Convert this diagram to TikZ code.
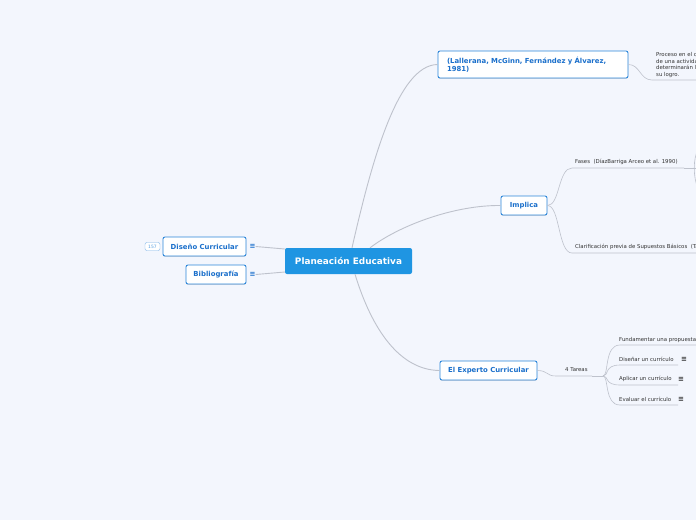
\documentclass[tikz,border=0pt]{standalone}
\usepackage{fontspec}
\setmainfont{DejaVu Sans}
\usetikzlibrary{shadows}
\definecolor{bg}{HTML}{F3F6FD}
\definecolor{mainblue}{HTML}{1F95E2}
\definecolor{boxborder}{HTML}{2C86DA}
\definecolor{boxtext}{HTML}{1A6FCB}
\definecolor{linegray}{HTML}{BEC2CC}
\definecolor{textgray}{HTML}{333333}
\tikzset{
  topic/.style={draw=boxborder, line width=0.9pt, fill=white, rounded corners=2pt,
    text=boxtext, font=\fontsize{6.9}{8.3}\selectfont\bfseries, inner sep=0pt,
    drop shadow={opacity=0.25, shadow xshift=0pt, shadow yshift=-0.8pt}},
  central/.style={fill=mainblue, rounded corners=2pt, text=white,
    font=\fontsize{8.9}{10}\selectfont\bfseries, inner sep=0pt},
  small/.style={text=textgray, font=\fontsize{5.4}{6.4}\selectfont, inner sep=0pt, anchor=west},
  conn/.style={draw=linegray, line width=0.9pt},
  thin/.style={draw=linegray, line width=0.6pt},
  icon/.style={font=\fontsize{7}{7}\selectfont\bfseries, inner sep=0pt},
}
\begin{document}
\begin{tikzpicture}[x=1pt,y=-1pt]
\fill[bg] (0,0) rectangle (696,520);
\useasboundingbox (0,0) rectangle (696,520);
\clip (0,0) rectangle (696,520);

% main nodes
\node[central, minimum width=127, minimum height=26] (C) at (348.5,261) {Planeación Educativa};
\node[topic, minimum width=190, minimum height=27, text width=172, align=left] (L) at (533,64.5)
  {(Lallerana, McGinn, Fernández y Álvarez,\\1981)};
\node[topic, minimum width=46, minimum height=19] (I) at (524,205.5) {Implica};
\node[topic, minimum width=97, minimum height=19] (E) at (488.5,370.5) {El Experto Curricular};
\node[topic, minimum width=83, minimum height=19] (D) at (204.5,246.5) {Diseño Curricular};
\node[topic, minimum width=60, minimum height=19] (B) at (216,274.5) {Bibliografía};

% left icons and badge
\node[icon, text=boxtext] (Di) at (252.5,246.5) {≡};
\node[icon, text=boxtext] (Bi) at (252.5,274.5) {≡};
\node[draw=boxborder!60, rounded corners=2pt, fill=white, text=boxborder!80,
  font=\fontsize{4.5}{5}\selectfont, minimum width=15, minimum height=8, inner sep=0pt] (badge) at (152.5,246.5) {157};

% texts
\node[small, align=left, anchor=north west] (P) at (656,52.5)
  {Proceso en el cual\\de una actividad\\determinarán la\\su logro.};
\node[small] (F) at (575,162) {Fases\ \ (DíazBarriga Arceo et al. 1990)};
\node[small] (K) at (575,247) {Clarificación previa de Supuestos Básicos\ \ (Taba)};
\node[small] (T) at (565,370) {4 Tareas};
\node[small] (T1) at (619,340) {Fundamentar una propuesta curricular};
\node[small] (T2) at (619,359.5) {Diseñar un currículo};
\node[small] (T3) at (619,379) {Aplicar un currículo};
\node[small] (T4) at (619,399) {Evaluar el currículo};
\node[icon, text=textgray] (T2i) at (684,359.5) {≡};
\node[icon, text=textgray] (T3i) at (681,379) {≡};
\node[icon, text=textgray] (T4i) at (681,399) {≡};

\coordinate (pu) at (652,80);
\coordinate (fu) at (572,168);
\coordinate (ku) at (572,253);
\coordinate (tu) at (556,376);
\coordinate (hub) at (603,376);

% connectors from center
\draw[conn] (C.north) ++(3.5,0) coordinate (c1) .. controls (372,160) and (398,65) .. (L.west);
\draw[conn] (C.north) ++(21.5,0) coordinate (c2) .. controls (400,225) and (455,205) .. (I.west);
\draw[conn] (C.south) ++(6.5,0) coordinate (c3) .. controls (372,330) and (400,370) .. (E.west);
\draw[conn] (C.west) ++(0,-12) coordinate (c4) -- (Di.east);
\draw[conn] (C.west) ++(0,11) coordinate (c5) -- (Bi.east);

% Lallerana -> Proceso
\draw[thin] (L.east) .. controls (640,64.5) and (640,80) .. (pu) -- (700,80);

% Implica branches
\draw[thin] (I.east) .. controls (560,205.5) and (558,168) .. (fu) -- (684,168);
\draw[conn] (684,168) -- (696,168);
\draw[thin] (I.east) .. controls (560,205.5) and (558,253) .. (ku) -- (700,253);
\draw[thin] (698,150) .. controls (693,158) and (693,178) .. (698,188);

% Experto branches
\draw[thin] (E.east) .. controls (548,370.5) and (546,376) .. (tu) -- (592,376);
\draw[conn] (592,376) -- (hub);
\draw[thin] (hub) .. controls (609,376) and (604,345) .. (620,345) -- (700,345);
\draw[thin] (hub) .. controls (609,376) and (604,365) .. (620,365) -- (678,365);
\draw[thin] (hub) .. controls (609,376) and (604,385) .. (620,385) -- (678,385);
\draw[thin] (hub) .. controls (609,376) and (604,405) .. (620,405) -- (678,405);
\end{tikzpicture}
\end{document}
